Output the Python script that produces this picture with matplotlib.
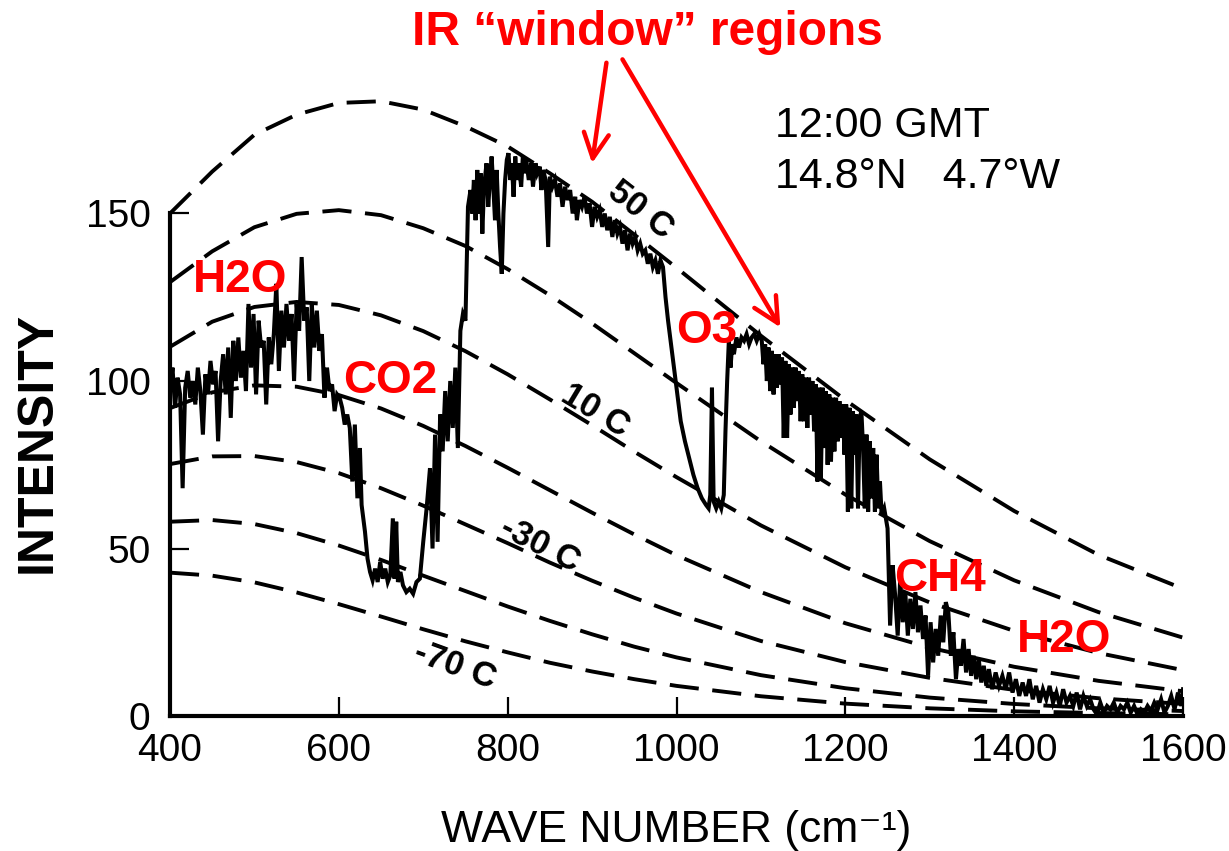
import matplotlib
matplotlib.use('Agg')
import matplotlib.pyplot as plt

plt.rcParams['font.family'] = ['Liberation Sans Narrow', 'Liberation Sans', 'DejaVu Sans']

curve_wn = [400, 450, 500, 550, 600, 650, 700, 750, 800, 850, 900, 950, 1000,
            1100, 1200, 1300, 1400, 1500, 1600]
t_p50 = [150, 162.5, 173.5, 179.5, 183, 183.5, 181, 176, 170, 162, 153.5, 143.7, 133.8,
         113.5, 94.3, 76.6, 61.2, 48.1, 38.0]
t_p30 = [129.5, 138.7, 145.9, 149.9, 151.0, 149.5, 145.6, 140.3, 133.4, 125.6, 117.2, 108.3, 99.4,
         82.0, 66.1, 52.2, 40.5, 31.0, 23.4]
t_p10 = [110.2, 117.7, 122.1, 123.6, 122.7, 119.6, 114.9, 108.9, 102.0, 94.5, 86.8, 78.9, 71.3,
         56.9, 44.4, 33.9, 25.4, 18.8, 13.7]
t_m10 = [91.9, 96.6, 98.7, 98.3, 95.8, 91.8, 86.6, 80.6, 74.1, 67.4, 60.7, 54.2, 48.0,
         37.0, 27.7, 20.4, 14.7, 10.5, 7.4]
t_m30 = [75.2, 77.5, 77.6, 75.8, 72.5, 68.0, 62.8, 57.2, 51.6, 45.8, 40.4, 35.3, 30.6,
         22.4, 16.1, 11.4, 7.8, 5.3, 3.6]
t_m50 = [58.0, 58.5, 57.3, 54.6, 50.9, 46.6, 41.9, 37.3, 32.7, 28.4, 24.4, 20.7, 17.5,
         12.2, 8.3, 5.5, 3.6, 2.3, 1.5]
t_m70 = [42.8, 41.9, 39.9, 36.9, 33.4, 29.7, 25.9, 22.3, 19.0, 15.9, 13.3, 11.0, 9.0,
         5.9, 3.7, 2.3, 1.4, 0.9, 0.5]

# H2O rotation band
h2o_wn = [400, 403, 406, 409, 412, 415, 418, 421, 424, 427, 430, 433, 436, 439, 442, 445, 448, 451,
          454, 457, 460, 463, 466, 469, 472, 475, 478, 481, 484, 487, 490, 493, 496, 499, 502, 505,
          508, 511, 514, 517, 520, 523, 526, 529, 532, 535, 538, 541, 544, 547, 550, 553, 556, 559,
          562, 565, 568, 571, 574, 577, 580, 583, 586, 589, 592, 595, 598, 601, 604, 607, 610, 613]
h2o_int = [97, 104, 92, 101, 96, 68, 98, 103, 95, 100, 93, 104, 97, 84, 102, 96, 106, 99,
           103, 82, 100, 108, 96, 110, 89, 112, 100, 113, 101, 109, 97, 123, 104, 120, 96, 118,
           110, 112, 93, 113, 105, 114, 129, 103, 121, 110, 123, 112, 120, 100, 123, 115, 137, 118,
           122, 100, 123, 110, 121, 109, 114, 95, 104, 97, 99, 91, 96, 95, 92, 87, 90, 86]
# CO2 band
co2_wn = [616, 619, 622, 625, 627, 631, 634, 637, 640, 643, 646, 649, 652, 655, 658, 661, 664, 666,
          668, 670, 673, 676, 680, 684, 688, 692, 696, 700, 704, 708, 711, 714, 717, 720, 723, 726,
          729, 732, 735, 738, 741, 744, 747, 750]
co2_int = [70, 87, 65, 80, 63, 55, 47, 43, 40.5, 44, 40, 46, 41, 44, 40, 42, 59, 41,
           58, 40, 43, 39, 37, 38, 36.5, 40, 41, 52, 62, 74, 50, 84, 52, 90, 79, 97,
           82, 100, 86, 104, 80, 115, 120, 118]
# first window
win1_wn = [753, 756, 758, 760, 762, 764, 766, 768, 770, 772, 775, 777, 779, 781, 783, 785, 787, 789,
           791, 793, 795, 797, 799, 801, 803, 805, 807, 809, 811, 813, 816, 818, 820, 822, 825, 828,
           830, 833, 835, 838, 840, 842, 845, 848, 850, 853, 856, 859, 862, 865, 868, 871, 874, 877,
           880, 882, 885, 888, 891, 894, 897, 900, 903, 906, 909, 912, 915, 918, 921, 924, 927, 930,
           933, 936, 939, 942, 945, 948, 951, 954, 957, 960, 963, 966, 969, 972, 975, 978, 981, 984]
win1_int = [152, 157, 150, 160, 148, 163, 150, 162, 144, 158, 165, 152, 160, 167, 158, 148, 163, 150,
            140, 132, 150, 160, 166, 168, 160, 165, 155, 167, 160, 165, 158, 167, 162, 166, 160, 165,
            158, 165, 162, 164, 157, 163, 160, 140, 161, 158, 160, 155, 159, 152, 158, 154, 157, 150,
            155, 148, 154, 152, 155, 150, 153, 146, 152, 149, 151, 146, 150, 145, 149, 143, 148, 144,
            146, 141, 145, 139, 144, 141, 143, 139, 141, 138, 139, 135, 138, 134, 136, 132, 136, 134]
# O3 band
o3_wn = [987, 990, 995, 1000, 1005, 1010, 1015, 1020, 1025, 1030, 1035, 1038, 1040, 1042, 1044, 1047,
         1050, 1053, 1056, 1058, 1060, 1062, 1064, 1066, 1068, 1071, 1074, 1077, 1080, 1083, 1086,
         1089, 1092, 1095, 1098]
o3_int = [125, 118, 108, 98, 88, 82, 77, 72, 68, 65, 63, 62, 66, 98, 64, 62,
          64, 62, 66, 85, 100, 112, 104, 111, 108, 113, 110, 113, 112, 114, 111,
          113, 114, 112, 114]
# second window
win2_wn = [1101, 1103, 1105, 1107, 1109, 1111, 1113, 1115, 1117, 1119, 1121, 1123, 1125, 1127, 1129,
           1131, 1133, 1135, 1137, 1139, 1141, 1143, 1145, 1147, 1149, 1151, 1153, 1155, 1157, 1159,
           1161, 1163, 1165, 1167, 1169, 1171, 1173, 1175, 1177, 1179, 1181, 1183, 1185, 1187, 1189,
           1191, 1193, 1195, 1197, 1199, 1201, 1203, 1205, 1207, 1209, 1211, 1213, 1215, 1217, 1219,
           1221, 1223, 1225, 1227, 1229, 1231, 1233, 1235, 1237, 1239, 1241, 1243, 1246, 1250]
win2_int = [112, 105, 111, 100, 110, 97, 109, 96, 108, 98, 108, 99, 107, 83, 106,
            83, 105, 90, 104, 92, 104, 94, 103, 88, 102, 88, 101, 86, 101, 90,
            100, 85, 99, 70, 98, 71, 98, 80, 97, 75, 96, 76, 95, 79, 95,
            82, 94, 83, 93, 78, 93, 61, 92, 62, 91, 78, 90, 62, 89, 91,
            80, 62, 84, 61, 82, 65, 80, 61, 78, 62, 70, 60, 62, 56]
# CH4 / H2O bands
ch4_wn = [1253, 1256, 1259, 1262, 1265, 1268, 1271, 1274, 1277, 1280, 1283, 1286, 1289, 1292, 1295,
          1298, 1301, 1304, 1307, 1310, 1313, 1316, 1319, 1322, 1325, 1328, 1331, 1334, 1337, 1340,
          1343, 1346, 1349, 1352, 1355, 1358, 1361, 1364, 1367, 1370, 1374, 1378, 1382, 1386, 1390,
          1394, 1398, 1402, 1406, 1410, 1414, 1418, 1422, 1426, 1430, 1434, 1438, 1442, 1446, 1450,
          1454, 1458, 1462, 1466, 1470, 1474, 1478, 1482, 1486, 1490, 1494, 1498, 1502, 1506, 1510,
          1514, 1518, 1522, 1526, 1530, 1534, 1538, 1542, 1546, 1550, 1554, 1558, 1562, 1566, 1570,
          1574, 1578, 1582, 1586, 1590, 1594, 1598, 1600]
ch4_int = [27, 45, 36, 24, 41, 28, 37, 24, 35, 26, 37, 25, 33, 23, 30,
           12, 28, 16, 26, 18, 30, 22, 34, 31, 18, 25, 11, 20, 15, 23,
           13, 20, 12, 18, 11, 17, 10, 15, 9, 14, 8, 13, 9, 12, 8,
           13, 7, 11, 6, 10, 6, 11, 5, 9, 4, 8, 5, 9, 4, 7,
           3, 8, 4, 6, 3, 7, 2, 6, 3, 5, 2, 0.5, 4, 1, 3,
           2, 4, 1, 3, 2, 4, 1, 3, 0.5, 2, 1, 3, 1.5, 4, 2,
           5, 1, 3, 6, 2, 7, 3, 8]

spec_wn = h2o_wn + co2_wn + win1_wn + o3_wn + win2_wn + ch4_wn
spec_int = h2o_int + co2_int + win1_int + o3_int + win2_int + ch4_int

x_ticks = [400, 600, 800, 1000, 1200, 1400, 1600]
y_ticks = [0, 50, 100, 150]

RED = '#ff0000'
BOLD = ['Liberation Sans', 'DejaVu Sans']

fig = plt.figure(figsize=(12.29, 8.51), dpi=100)
ax = fig.add_axes([0.1383, 0.1586, 0.8243, 0.748])

# blackbody curves, dashed
for vals in [t_p50, t_p30, t_p10, t_m10, t_m30, t_m50, t_m70]:
    ax.plot(curve_wn, vals, color='black', lw=2.8, dashes=(7.5, 3.5), zorder=2)

# observed spectrum
ax.plot(spec_wn, spec_int, color='black', lw=2.9, zorder=3, solid_joinstyle='miter')

ax.set_xlim(400, 1600)
ax.set_ylim(0, 190)
ax.set_xticks(x_ticks)
ax.set_yticks(y_ticks)
for s in ['top', 'right']:
    ax.spines[s].set_visible(False)
ax.spines['left'].set_bounds(0, 150)
ax.spines['left'].set_linewidth(3)
ax.spines['bottom'].set_linewidth(3)
ax.tick_params(direction='in', length=14, width=1.6, labelsize=28)
ax.tick_params(axis='x', pad=12)
ax.tick_params(axis='y', pad=14)

ax.set_xlabel('WAVE NUMBER (cm⁻¹)', fontsize=32, labelpad=30)
ax.set_ylabel('INTENSITY', fontsize=36, fontweight='bold', family=BOLD)
ax.yaxis.set_label_coords(-0.108, 0.43)

# temperature labels on the dashed curves
ax.text(957, 151, '50 C', rotation=-38, fontsize=25, fontweight='bold', family=BOLD,
        ha='center', va='center')
ax.text(904, 91, '10 C', rotation=-31, fontsize=25, fontweight='bold', family=BOLD,
        ha='center', va='center')
ax.text(838, 51, '-30 C', rotation=-27, fontsize=25, fontweight='bold', family=BOLD,
        ha='center', va='center')
ax.text(738, 15, '-70 C', rotation=-20, fontsize=25, fontweight='bold', family=BOLD,
        ha='center', va='center')

# absorber labels
for label, x, y in [('H2O', 483, 130), ('CO2', 661, 100), ('O3', 1036, 115),
                    ('CH4', 1312, 41), ('H2O', 1459, 22.7)]:
    ax.text(x, y, label, color=RED, fontsize=33, fontweight='bold', family=BOLD,
            ha='center', va='center', zorder=5)

ax.text(966, 204, 'IR “window” regions', color=RED, fontsize=34.5, fontweight='bold',
        family=BOLD, ha='center', va='center')
arrow = dict(arrowstyle='->,head_length=0.9,head_width=0.45', color=RED, lw=3.2,
             mutation_scale=20, shrinkA=0, shrinkB=0)
ax.annotate('', xy=(900, 165), xytext=(917, 195), arrowprops=arrow, annotation_clip=False)
ax.annotate('', xy=(1123, 116), xytext=(936, 196), arrowprops=arrow, annotation_clip=False)

ax.text(1117, 176, '12:00 GMT', fontsize=31, ha='left', va='center')
ax.text(1117, 161, '14.8°N   4.7°W', fontsize=31, ha='left', va='center')

fig.savefig('out.png', dpi=100)
